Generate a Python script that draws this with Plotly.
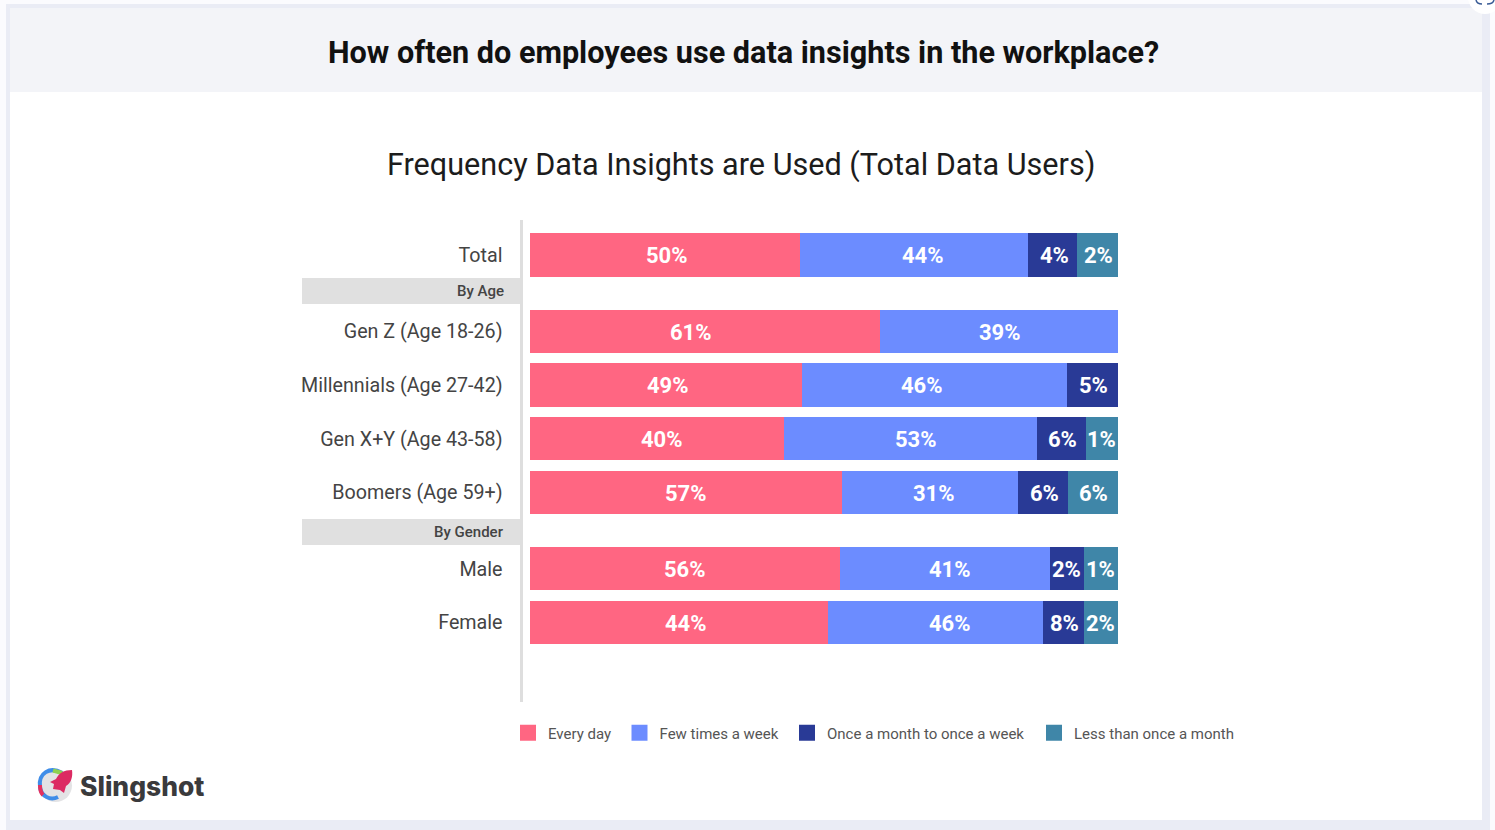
import plotly.graph_objects as go

W, H = 1495, 830

categories = ["Total", "Gen Z (Age 18-26)", "Millennials (Age 27-42)", "Gen X+Y (Age 43-58)",
              "Boomers (Age 59+)", "Male", "Female"]
group_sizes = [1, 4, 2]
group_titles = ["By Age", "By Gender"]
series_names = ["Every day", "Few times a week", "Once a month to once a week", "Less than once a month"]
series_colors = ["#FF6682", "#6C8CFF", "#293A96", "#3F86A8"]

# Bar lengths as drawn in the picture (share of the full bar)
every_day = [45.9, 59.5, 46.3, 43.2, 53.1, 52.7, 50.7]
few_times = [38.8, 40.5, 45.0, 42.9, 29.9, 35.7, 36.4]
monthly = [8.3, None, 8.7, 8.3, 8.5, 5.8, 7.1]
rarely = [7.0, None, None, 5.6, 8.5, 5.8, 5.8]

# Printed labels
every_day_labels = ["50%", "61%", "49%", "40%", "57%", "56%", "44%"]
few_times_labels = ["44%", "39%", "46%", "53%", "31%", "41%", "46%"]
monthly_labels = ["4%", "", "5%", "6%", "6%", "2%", "8%"]
rarely_labels = ["2%", "", "", "1%", "6%", "1%", "2%"]

# Label offset from the segment centre, in pixels
every_day_nudge = [3, -13, 2, 6, 0, 1, 7]
few_times_nudge = [9, 1, -12, 6, 4, 5, 15]
monthly_nudge = [2, 0, 1, 2, 2, 0, 2]
rarely_nudge = [1, 0, 0, 0, 1, 0, 0]

values = [every_day, few_times, monthly, rarely]
labels = [every_day_labels, few_times_labels, monthly_labels, rarely_labels]
nudges = [every_day_nudge, few_times_nudge, monthly_nudge, rarely_nudge]

# Row layout: one unit per bar, with a gap holding the group title between groups
GROUP_GAP = 0.42
band_offsets = [0.67, 0.74]
rows, band_rows, pos = [], [], 0.0
for g, n in enumerate(group_sizes):
    for _ in range(n):
        rows.append(pos)
        pos += 1
    pos += GROUP_GAP
    if g < len(group_titles):
        band_rows.append(rows[-1] + band_offsets[g])

ROW_PX = 53.7
TOP_ROW_PX = 255
AX_L, AX_R, AX_T, AX_B = 522.5, 1118, 220, 702
BAR_L = 529.3
LEGEND_SWATCH_PX = [528, 639.5, 807, 1054]


def px(x):
    return x / W


def py(y):
    return 1 - y / H


def u(y):
    return (y - TOP_ROW_PX) / ROW_PX


fig = go.Figure()
legend_ids = ["legend", "legend2", "legend3", "legend4"]
for name, color, vals, lid in zip(series_names, series_colors, values, legend_ids):
    fig.add_trace(go.Bar(
        y=rows, x=vals, orientation="h", name=name, marker=dict(color=color, line=dict(width=0)),
        width=0.81, showlegend=False, hoverinfo="skip",
    ))
    fig.add_trace(go.Scatter(
        x=[None], y=[None], mode="markers", name=name, legend=lid,
        marker=dict(symbol="square", size=18, color=color),
    ))

shapes = [
    dict(type="rect", xref="paper", yref="paper", x0=0, x1=1, y0=0, y1=1, fillcolor="#FBFBFE",
         line_width=0, layer="below"),
    dict(type="rect", xref="paper", yref="paper", x0=px(6), x1=px(1490), y0=py(4), y1=py(830),
         fillcolor="#EAECF5", line_width=0, layer="below"),
    dict(type="rect", xref="paper", yref="paper", x0=px(10), x1=px(1482), y0=py(8), y1=py(820),
         fillcolor="#FFFFFF", line_width=0, layer="below"),
    dict(type="rect", xref="paper", yref="paper", x0=px(10), x1=px(1482), y0=py(8), y1=py(92),
         fillcolor="#F3F4F8", line_width=0, layer="below"),
    # Corner badge cut off by the top edge
    dict(type="circle", xref="paper", yref="paper", x0=px(1468), x1=px(1502), y0=py(-20), y1=py(14),
         fillcolor="#FFFFFF", line_width=0, layer="below"),
    dict(type="path", xref="paper", yref="paper",
         path=f"M {px(1476)},{py(0)} Q {px(1477)},{py(4)} {px(1482)},{py(4)}",
         line=dict(color="#3A5C96", width=1.5)),
    dict(type="path", xref="paper", yref="paper",
         path=f"M {px(1487)},{py(4)} Q {px(1493)},{py(4)} {px(1494)},{py(0)}",
         line=dict(color="#3A5C96", width=1.5)),
]
for r in band_rows:
    shapes.append(dict(type="rect", xref="paper", yref="y", x0=px(302), x1=px(521),
                       y0=r - 13 / ROW_PX, y1=r + 13 / ROW_PX, fillcolor="#E0E0E0", line_width=0,
                       layer="below"))

# Logo mark
shapes += [
    dict(type="circle", xref="paper", yref="paper", x0=px(39), x1=px(72), y0=py(769), y1=py(802),
         fillcolor="#E3E3E5", line_width=0),
    dict(type="path", xref="paper", yref="paper",
         path=f"M {px(62)},{py(773)} C {px(50)},{py(766)} {px(38)},{py(773)} {px(40)},{py(787)} "
              f"C {px(41)},{py(796)} {px(50)},{py(801)} {px(58)},{py(797)}",
         line=dict(color="#3F8DE8", width=4)),
    dict(type="path", xref="paper", yref="paper",
         path=f"M {px(40)},{py(785)} C {px(40)},{py(790)} {px(41)},{py(793)} {px(43)},{py(795)}",
         line=dict(color="#E5305F", width=4)),
    dict(type="path", xref="paper", yref="paper",
         path=f"M {px(53)},{py(770.5)} L {px(62)},{py(773)}",
         line=dict(color="#8FD14F", width=4)),
    dict(type="path", xref="paper", yref="paper",
         path=f"M {px(72)},{py(770)} C {px(64)},{py(770)} {px(59)},{py(773)} {px(56)},{py(779)} "
              f"L {px(50)},{py(782)} L {px(54)},{py(784)} L {px(53)},{py(789)} L {px(60)},{py(790)} "
              f"L {px(64)},{py(793)} L {px(66)},{py(786)} C {px(71)},{py(783)} {px(73)},{py(777)} {px(72)},{py(770)} Z",
         fillcolor="#DC2A62", line_width=0),
]

annotations = [
    dict(text="<b>How often do employees use data insights in the workplace?</b>", xref="paper", yref="paper",
         x=px(743.5), y=py(52), xanchor="center", yanchor="middle", showarrow=False,
         font=dict(family="Roboto", size=30.6, color="#111111")),
    dict(text="Frequency Data Insights are Used (Total Data Users)", xref="paper", yref="paper",
         x=px(741), y=py(165), xanchor="center", yanchor="middle", showarrow=False,
         font=dict(family="Roboto", size=30.6, color="#1c1c1c")),
    dict(text="Slingshot", xref="paper", yref="paper", x=px(78), y=py(786), xanchor="left",
         yanchor="middle", showarrow=False,
         font=dict(family="Inter", size=26.4, color="#3A3A3C", weight=800)),
]
for r, t in zip(band_rows, group_titles):
    annotations.append(dict(text=t, xref="paper", yref="y", x=px(506), y=r, xanchor="right",
                            yanchor="middle", showarrow=False,
                            font=dict(family="Roboto", size=15, color="#444444", weight=500)))

# Segment labels sit on each segment's centre, taken from the stacked values
for i, row in enumerate(rows):
    start = 0.0
    for vals, labs, nud in zip(values, labels, nudges):
        if vals[i] is None:
            continue
        annotations.append(dict(
            text=labs[i], x=start + vals[i] / 2, y=row, xref="x", yref="y",
            xshift=nud[i], yshift=-1, showarrow=False, xanchor="center", yanchor="middle",
            font=dict(family="Roboto", size=22, color="white", weight="bold"),
        ))
        start += vals[i]

legend_style = dict(orientation="h", xanchor="left", yanchor="middle",
                    font=dict(family="Roboto", size=15, color="#555555"), bgcolor="rgba(0,0,0,0)",
                    itemclick=False, itemdoubleclick=False)
legends = {lid: dict(x=px(c - 20), y=py(733), **legend_style)
           for lid, c in zip(legend_ids, LEGEND_SWATCH_PX)}

fig.update_layout(
    width=W, height=H, autosize=False,
    margin=dict(l=0, r=0, t=0, b=0),
    paper_bgcolor="#FFFFFF", plot_bgcolor="rgba(0,0,0,0)",
    barmode="stack", bargap=0, showlegend=True,
    shapes=shapes, annotations=annotations,
    xaxis=dict(domain=[px(AX_L), px(AX_R)],
               range=[(AX_L - BAR_L) / (AX_R - BAR_L) * 100, 100],
               visible=False, fixedrange=True),
    yaxis=dict(domain=[py(AX_B), py(AX_T)], range=[u(AX_B), u(AX_T)],
               tickmode="array", tickvals=rows, ticktext=categories,
               ticks="outside", ticklen=13, tickcolor="rgba(0,0,0,0)",
               tickfont=dict(family="Roboto", size=19.7, color="#444444"),
               showline=True, linecolor="#DEDEDE", linewidth=3, showgrid=False, zeroline=False,
               fixedrange=True),
    hovermode=False,
    **legends,
)

fig.write_html("out.html", config={"displayModeBar": False},
               post_script="document.body.style.margin='0';document.body.style.overflow='hidden';")
